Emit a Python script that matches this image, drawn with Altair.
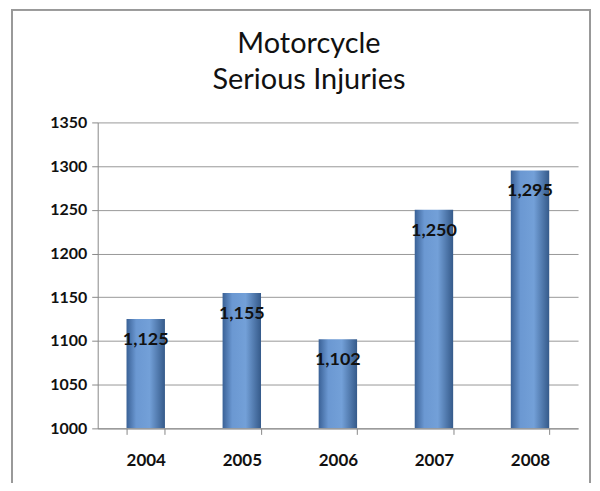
import altair as alt
import pandas as pd

years = ["2004", "2005", "2006", "2007", "2008"]
injuries = [1125, 1155, 1102, 1250, 1295]
labels = ["1,125", "1,155", "1,102", "1,250", "1,295"]

df = pd.DataFrame({"year": years, "value": injuries, "label": labels})

grad = alt.Gradient(
    gradient="linear",
    stops=[
        alt.GradientStop(color="#3a6196", offset=0),
        alt.GradientStop(color="#6b98d2", offset=0.25),
        alt.GradientStop(color="#73a0d8", offset=0.6),
        alt.GradientStop(color="#355a8a", offset=1),
    ],
    x1=0, x2=1, y1=0, y2=0,
)

x = alt.X("year:N", title=None, sort=years,
          scale=alt.Scale(paddingInner=0.6, paddingOuter=0.3),
          axis=alt.Axis(labelAngle=0, tickBand="extent", labelFontSize=17,
                        labelFontWeight="bold", labelFont="Lato", labelColor="#111",
                        labelPadding=18, tickSize=6, domainColor="#888", tickColor="#888"))
y = alt.Y("value:Q", title=None,
          scale=alt.Scale(domain=[1000, 1350], zero=False, nice=False),
          axis=alt.Axis(values=[1000, 1050, 1100, 1150, 1200, 1250, 1300, 1350],
                        format="d",
                        labelFontSize=16, labelFontWeight="bold", labelFont="Lato",
                        labelColor="#111", tickSize=6, labelPadding=5,
                        domainColor="#888", tickColor="#888", gridColor="#999"))

bars = alt.Chart(df).mark_bar(color=grad, clip=True).encode(
    x=x, y=y, y2=alt.datum(1000))

text = alt.Chart(df).mark_text(dy=21, fontSize=18, fontWeight="bold", font="Lato",
                               color="#111").encode(x=x, y=y, text="label:N")

border = alt.Chart(df).mark_rect(fill="transparent", stroke="#999", strokeWidth=1.5).encode(
    x=alt.value(-86), x2=alt.value(494), y=alt.value(-113), y2=alt.value(400))

chart = alt.layer(border, bars, text).properties(
    width=482, height=307,
    autosize=alt.AutoSizeParams(type="none"),
    padding={"left": 90, "top": 114, "right": 14, "bottom": 54},
    title=alt.TitleParams(["Motorcycle", "Serious Injuries"], fontSize=29,
                          font="Lato", fontWeight="normal", lineHeight=36,
                          anchor="middle", dx=-29, offset=-86, color="#111"),
).configure_view(stroke=None).configure_axisX(grid=False)

chart.save("out.html", embed_options={"renderer": "svg", "actions": False})
